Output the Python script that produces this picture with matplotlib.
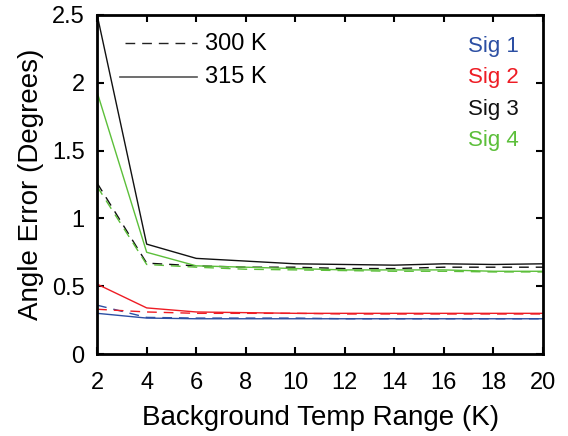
import numpy as np
import matplotlib.pyplot as plt

plt.rcParams['font.family'] = ['Liberation Sans', 'DejaVu Sans']

temp_range = [2, 4, 6, 8, 10, 12, 14, 16, 18, 20]

# 300 K (dashed)
sig1_300 = [0.36, 0.27, 0.265, 0.265, 0.265, 0.26, 0.26, 0.26, 0.26, 0.26]
sig2_300 = [0.33, 0.31, 0.30, 0.30, 0.30, 0.295, 0.295, 0.295, 0.295, 0.295]
sig3_300 = [1.26, 0.67, 0.65, 0.64, 0.64, 0.63, 0.63, 0.64, 0.64, 0.64]
sig4_300 = [1.235, 0.66, 0.64, 0.625, 0.62, 0.615, 0.61, 0.61, 0.605, 0.605]

# 315 K (solid)
sig1_315 = [0.30, 0.265, 0.26, 0.26, 0.26, 0.26, 0.26, 0.26, 0.26, 0.26]
sig2_315 = [0.515, 0.34, 0.31, 0.305, 0.30, 0.30, 0.30, 0.30, 0.30, 0.30]
sig3_315 = [2.5, 0.81, 0.705, 0.685, 0.665, 0.66, 0.655, 0.665, 0.66, 0.665]
sig4_315 = [1.93, 0.75, 0.65, 0.64, 0.63, 0.62, 0.62, 0.62, 0.61, 0.61]

sig_names = ['Sig 1', 'Sig 2', 'Sig 3', 'Sig 4']
colors = ['#2c4fa3', '#ee1c24', '#111111', '#5cbf3a']

fig, ax = plt.subplots(figsize=(5.68, 4.36), dpi=100)
fig.subplots_adjust(left=0.171, right=0.956, bottom=0.188, top=0.966)

for c, y300, y315 in zip(colors,
                         [sig1_300, sig2_300, sig3_300, sig4_300],
                         [sig1_315, sig2_315, sig3_315, sig4_315]):
    ax.plot(temp_range, y300, color=c, lw=1.0, ls=(0, (7, 5)))
    ax.plot(temp_range, y315, color=c, lw=1.0)

ax.set_xlim(2, 20)
ax.set_ylim(0, 2.5)
ax.set_xticks(np.arange(2, 21, 2))
ax.set_yticks(np.arange(0, 2.51, 0.5))
ax.set_yticklabels(['0', '0.5', '1', '1.5', '2', '2.5'])
ax.tick_params(direction='in', top=True, right=True, length=5, width=1.5,
               labelsize=17)
ax.tick_params(axis='x', pad=13)
ax.tick_params(axis='y', pad=9)
for s in ax.spines.values():
    s.set_linewidth(2)

ax.set_xlabel('Background Temp Range (K)', fontsize=20, labelpad=8)
ax.set_ylabel('Angle Error (Degrees)', fontsize=20, labelpad=6)

# line style key, upper left
ax.plot([3.13, 6.04], [2.293, 2.293], color='#222222', lw=1.0, ls=(0, (7, 5)))
ax.plot([2.93, 6.04], [2.043, 2.043], color='#555555', lw=1.2)
ax.text(6.36, 2.242, '300 K', fontsize=17, va='baseline')
ax.text(6.36, 1.998, '315 K', fontsize=17, va='baseline')

# colour key, upper right
for i, (name, c) in enumerate(zip(sig_names, colors)):
    ax.text(19.03, 2.229 - i * 0.2323, name, color=c, fontsize=16,
            ha='right', va='baseline')

fig.savefig('out.png', dpi=100)
